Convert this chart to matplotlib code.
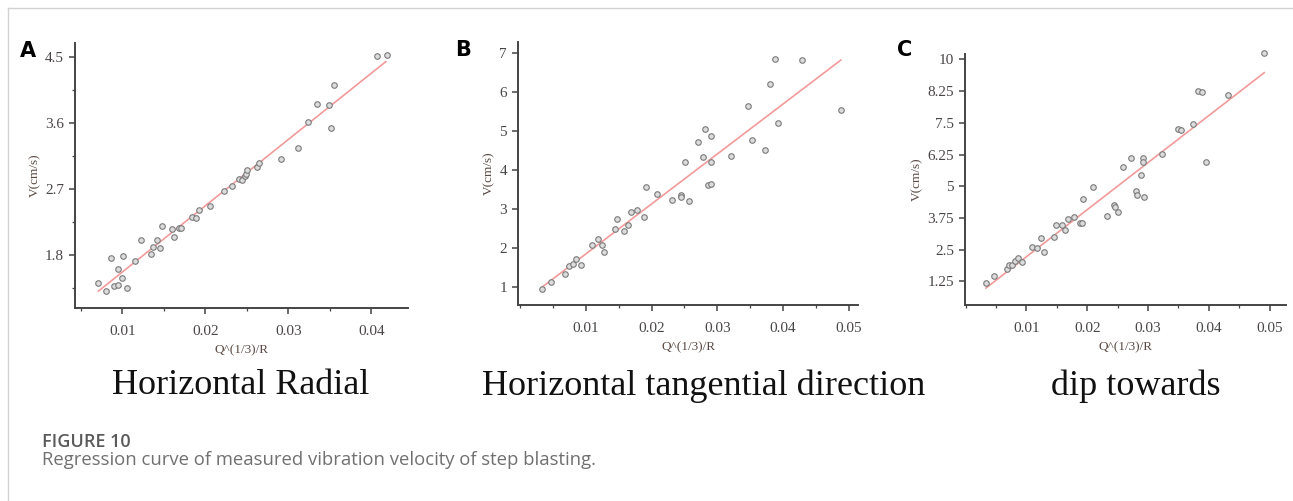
import numpy as np
import matplotlib
matplotlib.use('Agg')
import matplotlib.pyplot as plt
from matplotlib.lines import Line2D
from matplotlib.ticker import MultipleLocator

plt.rcParams['font.family'] = 'Liberation Serif'

# panel A - horizontal radial
a_x = [0.00711, 0.00807, 0.0086, 0.00904, 0.00952, 0.00948, 0.0100, 0.0101, 0.0106, 0.01153,
       0.01225, 0.01349, 0.01373, 0.01414, 0.01458, 0.01482, 0.01598, 0.01622, 0.01687, 0.01703,
       0.01839, 0.01884, 0.0192, 0.02056, 0.02225, 0.02325, 0.02402, 0.02438, 0.02474, 0.0249,
       0.02506, 0.02618, 0.02647, 0.02916, 0.03116, 0.03237, 0.03345, 0.03494, 0.03514, 0.0355,
       0.04068, 0.04185]
a_y = [1.427, 1.318, 1.764, 1.386, 1.395, 1.618, 1.482, 1.786, 1.359, 1.718,
       2.0, 1.818, 1.909, 2.0, 1.891, 2.195, 2.15, 2.05, 2.173, 2.173,
       2.318, 2.3, 2.414, 2.464, 2.668, 2.736, 2.841, 2.827, 2.873, 2.9,
       2.955, 3.005, 3.059, 3.114, 3.255, 3.609, 3.859, 3.85, 3.532, 4.114,
       4.514, 4.527]
a_fit_x = [0.00711, 0.04173]
a_fit_y = [1.309, 4.436]

# panel B - horizontal tangential
b_x = [0.00332, 0.00468, 0.00681, 0.00752, 0.00813, 0.00848, 0.00924, 0.01096, 0.01182, 0.01243,
       0.01278, 0.01451, 0.01476, 0.01582, 0.01638, 0.01684, 0.0178, 0.01886, 0.01916, 0.02084,
       0.02316, 0.02448, 0.02453, 0.02509, 0.0257, 0.02706, 0.02787, 0.02808, 0.02863, 0.02909,
       0.02904, 0.02899, 0.03208, 0.03466, 0.03527, 0.03724, 0.03805, 0.03876, 0.03927, 0.04296,
       0.04878]
b_y = [0.94, 1.128, 1.341, 1.537, 1.597, 1.708, 1.563, 2.066, 2.219, 2.083,
       1.895, 2.483, 2.748, 2.432, 2.586, 2.927, 2.961, 2.79, 3.566, 3.387,
       3.225, 3.361, 3.293, 4.197, 3.2, 4.708, 4.325, 5.032, 3.6, 3.643,
       4.87, 4.188, 4.35, 5.629, 4.751, 4.504, 6.192, 6.823, 5.203, 6.814,
       5.518]
b_fit_x = [0.00332, 0.04878]
b_fit_y = [0.991, 6.806]

# panel C - dip
c_x = [0.00335, 0.00473, 0.00676, 0.00709, 0.00764, 0.00819, 0.00857, 0.00929, 0.01093, 0.01181,
       0.01247, 0.01297, 0.01462, 0.01484, 0.01588, 0.01643, 0.01687, 0.01786, 0.01885, 0.01907,
       0.01934, 0.02099, 0.02319, 0.02445, 0.02456, 0.02511, 0.02582, 0.02725, 0.02808, 0.02813,
       0.02879, 0.02918, 0.02923, 0.02929, 0.03225, 0.03495, 0.03544, 0.03736, 0.03824, 0.0389,
       0.03956, 0.04313, 0.04912]
c_y = [1.198, 1.447, 1.735, 1.906, 1.893, 2.05, 2.181, 2.024, 2.614, 2.562,
       2.955, 2.417, 3.008, 3.48, 3.48, 3.27, 3.703, 3.768, 3.545, 3.545,
       4.477, 4.962, 3.821, 4.267, 4.175, 3.965, 5.775, 6.129, 4.818, 4.647,
       5.447, 6.129, 5.972, 4.582, 6.273, 7.244, 7.218, 7.467, 8.766, 8.727,
       5.959, 8.609, 10.236]
c_fit_x = [0.00335, 0.04912]
c_fit_y = [0.988, 9.474]

a_yticks = [1.8, 2.7, 3.6, 4.5]
b_yticks = [1, 2, 3, 4, 5, 6, 7]
c_yticks = [1.25, 2.5, 3.75, 5, 6.25, 7.5, 8.75, 10]
c_ylabels = ['1.25', '2.5', '3.75', '5', '6.25', '7.5', '8.25', '10']
titles = ['Horizontal Radial', 'Horizontal tangential direction', 'dip towards']

W, H = 1293, 501
fig = plt.figure(figsize=(W / 100, H / 100), dpi=100)

def box(l, t, r, b):
    return [l / W, 1 - b / H, (r - l) / W, (b - t) / H]

def panel(rect, x, y, fx, fy, xlim, ylim, yticks, ylabels, xticks, yminor=None):
    ax = fig.add_axes(rect)
    ax.scatter(x, y, s=16, facecolor='#dcdcdc', edgecolor='#7a7a7a', linewidth=0.8,
               zorder=3, clip_on=False)
    ax.plot(fx, fy, color='#f29a9a', lw=1.2, zorder=2)
    ax.set_xlim(xlim)
    ax.set_ylim(ylim)
    for s in ['top', 'right']:
        ax.spines[s].set_visible(False)
    for s in ['left', 'bottom']:
        ax.spines[s].set_color('#444444')
        ax.spines[s].set_linewidth(1.4)
    ax.set_yticks(yticks)
    ax.set_yticklabels(ylabels)
    ax.set_xticks(xticks)
    ax.set_xticklabels(['%g' % v for v in xticks])
    ax.xaxis.set_minor_locator(MultipleLocator(0.005))
    if yminor:
        ax.yaxis.set_minor_locator(MultipleLocator(yminor))
    ax.tick_params(which='major', length=4, width=1.1, color='#444444',
                   labelsize=11, labelcolor='#4a4646')
    ax.tick_params(axis='x', which='major', pad=8)
    ax.tick_params(axis='y', which='major', pad=4)
    ax.tick_params(which='minor', length=2.5, width=0.9, color='#444444')
    ax.set_xlabel('Q^(1/3)/R', fontsize=9.5, color='#5b4a44', labelpad=5)
    ax.set_ylabel('V(cm/s)', fontsize=9.5, color='#5b4a44', labelpad=3)
    return ax

axA = panel(box(75, 43, 408, 308), a_x, a_y, a_fit_x, a_fit_y, (0.0043, 0.0444), (1.08, 4.69),
            a_yticks, ['%g' % v for v in a_yticks], [0.01, 0.02, 0.03, 0.04], yminor=0.45)
axB = panel(box(518, 42, 858, 305), b_x, b_y, b_fit_x, b_fit_y, (-0.0003, 0.0514), (0.54, 7.27),
            b_yticks, ['%g' % v for v in b_yticks], [0.01, 0.02, 0.03, 0.04, 0.05])
axC = panel(box(965, 54, 1286, 305), c_x, c_y, c_fit_x, c_fit_y, (-0.0001, 0.0527), (0.32, 10.21),
            c_yticks, c_ylabels, [0.01, 0.02, 0.03, 0.04, 0.05])

# panel letters
for letter, px, py in [('A', 28, 51), ('B', 463, 50), ('C', 905, 50)]:
    fig.text(px / W, 1 - py / H, letter, fontsize=15, fontweight='bold',
             family='DejaVu Sans', ha='center', va='center')

# sub titles
for t, cx in zip(titles, [241, 704, 1136]):
    fig.text(cx / W, 1 - 386 / H, t, fontsize=26, family='Liberation Serif',
             ha='center', va='center', color='#111111')

fig.text(42 / W, 1 - 447 / H, 'FIGURE 10', fontsize=13, family='Open Sans',
         fontweight='semibold', color='#5a5a5a', va='baseline', ha='left')
fig.text(42 / W, 1 - 465 / H, 'Regression curve of measured vibration velocity of step blasting.',
         fontsize=13.3, family='Open Sans', color='#707070', va='baseline', ha='left')

# page frame lines
fig.add_artist(Line2D([8 / W, 8 / W], [0, 1 - 8 / H], transform=fig.transFigure,
                      color='#d2d2d2', lw=1))
fig.add_artist(Line2D([8 / W, 1], [1 - 8 / H, 1 - 8 / H], transform=fig.transFigure,
                      color='#d2d2d2', lw=1))

plt.savefig('out.png', dpi=100)
